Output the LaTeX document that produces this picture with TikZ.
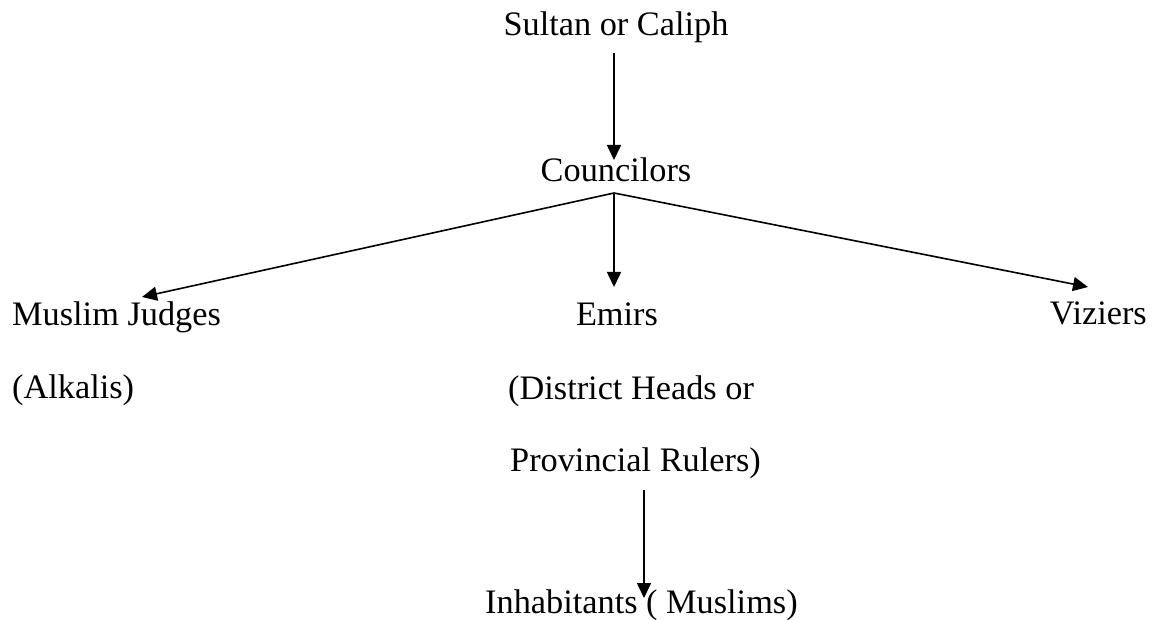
\documentclass[tikz,border=0pt]{standalone}
\usepackage{fontspec}
\setmainfont{Liberation Serif}
\usetikzlibrary{arrows.meta}
\begin{document}
\begin{tikzpicture}[x=1pt,y=-1pt,
  lbl/.style={inner sep=0pt,font=\fontsize{34.3}{41}\selectfont},
  arr/.style={line width=1.6pt,-{Triangle[length=15pt,width=14pt]}}]
\useasboundingbox (0,0) rectangle (1154,620);
% labels (positions are text baselines)
\node[lbl,anchor=base] (sultan) at (616,36) {Sultan or Caliph};
\node[lbl,anchor=base] (councilors) at (616,182) {Councilors};
\node[lbl,anchor=base west] (judges) at (12,326) {Muslim Judges};
\node[lbl,anchor=base west] (alkalis) at (12,398) {(Alkalis)};
\node[lbl,anchor=base] (emirs) at (617,326) {Emirs};
\node[lbl,anchor=base west] (district) at (508,399) {(District Heads or};
\node[lbl,anchor=base west] (provincial) at (510,471) {Provincial Rulers)};
\node[lbl,anchor=base east] (viziers) at (1147,325) {Viziers};
\node[lbl,anchor=base west] (inhabitants) at (485,613) {Inhabitants ( Muslims)};
% connector end points
\coordinate (top) at (614,53);
\coordinate (topend) at (614,160);
\coordinate (fork) at (614,193);
\coordinate (jtip) at (142,297);
\coordinate (etip) at (614,287);
\coordinate (vtip) at (1088,287);
\coordinate (pstart) at (644,490);
\coordinate (itip) at (644,598);
% connectors
\draw[arr] (top) -- (topend);
\draw[arr] (fork) -- (jtip);
\draw[arr] (fork) -- (etip);
\draw[arr] (fork) -- (vtip);
\draw[arr] (pstart) -- (itip);
\end{tikzpicture}
\end{document}
